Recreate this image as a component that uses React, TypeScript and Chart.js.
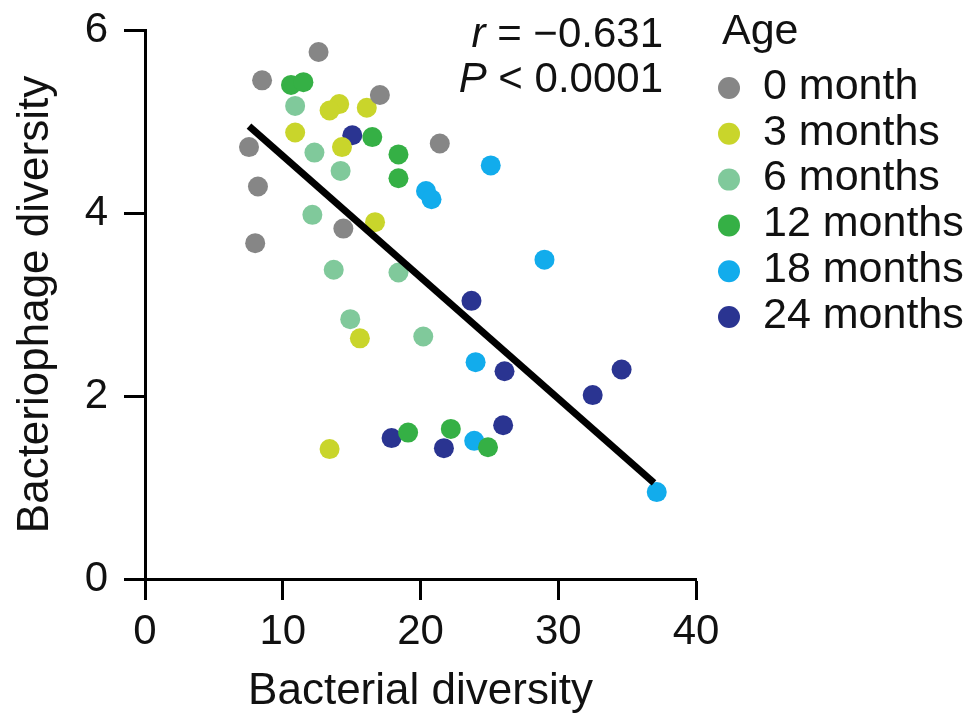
import React, { useEffect, useRef } from 'react';
import { Chart, registerables } from 'chart.js';
Chart.register(...registerables);

const ageLabels = ['0 month', '3 months', '6 months', '12 months', '18 months', '24 months'];
const ageColors = ['#868686', '#c9d52b', '#80c99b', '#35b045', '#12acec', '#2a3491'];

const month0X = [12.6, 8.5, 17.05, 21.4, 7.55, 8.2, 14.4, 8.0];
const month0Y = [5.76, 5.45, 5.29, 4.76, 4.72, 4.29, 3.83, 3.67];
const month3X = [14.1, 13.4, 16.1, 10.9, 14.3, 16.7, 15.6, 13.4];
const month3Y = [5.19, 5.12, 5.15, 4.88, 4.72, 3.9, 2.63, 1.42];
const month6X = [10.9, 12.3, 14.2, 12.15, 13.7, 18.4, 14.9, 20.2];
const month6Y = [5.17, 4.66, 4.46, 3.98, 3.38, 3.35, 2.84, 2.65];
const month12X = [10.6, 11.5, 16.5, 18.4, 18.4, 19.1, 22.2, 24.9];
const month12Y = [5.4, 5.43, 4.83, 4.64, 4.38, 1.6, 1.64, 1.44];
const month18X = [25.1, 20.4, 20.8, 29.0, 24.0, 23.9, 37.15];
const month18Y = [4.52, 4.24, 4.15, 3.49, 2.37, 1.51, 0.95];
const month24X = [15.05, 23.7, 17.9, 21.7, 26.1, 26.0, 32.5, 34.6];
const month24Y = [4.85, 3.04, 1.54, 1.43, 2.27, 1.68, 2.01, 2.29];

const fitLineX = [7.55, 36.95];
const fitLineY = [4.95, 1.05];

const statR = '\u22120.631';
const statP = '0.0001';

const xTicks = [0, 10, 20, 30, 40];
const yTicks = [0, 2, 4, 6];

const FONT = '"Liberation Sans", Arial, Helvetica, sans-serif';

const seriesX = [month0X, month3X, month6X, month12X, month18X, month24X];
const seriesY = [month0Y, month3Y, month6Y, month12Y, month18Y, month24Y];

const overlayPlugin = {
  id: 'overlay',
  afterDraw(chart: any) {
    const ctx = chart.ctx;
    ctx.save();
    ctx.fillStyle = '#111';
    ctx.textBaseline = 'middle';
    const rightX = 663;
    const drawRight = (italic: string, rest: string, y: number) => {
      ctx.font = `42px ${FONT}`;
      const wRest = ctx.measureText(rest).width;
      ctx.textAlign = 'left';
      ctx.fillText(rest, rightX - wRest, y);
      ctx.font = `italic 42px ${FONT}`;
      const wIt = ctx.measureText(italic).width;
      ctx.fillText(italic, rightX - wRest - wIt, y);
    };
    drawRight('r', ' = ' + statR, 35);
    drawRight('P', ' < ' + statP, 80);

    ctx.font = `43px ${FONT}`;
    ctx.textAlign = 'left';
    ctx.fillText('Age', 722, 32);
    ageLabels.forEach((lab, i) => {
      const y = 87 + i * 45.8;
      ctx.beginPath();
      ctx.fillStyle = ageColors[i];
      ctx.arc(729, y + 1, 11, 0, Math.PI * 2);
      ctx.fill();
      ctx.fillStyle = '#111';
      ctx.fillText(lab, 763, y);
    });
    ctx.restore();
  },
};

const clearPad = (s: any) => {
  s.paddingTop = 0;
  s.paddingBottom = 0;
  s.paddingLeft = 0;
  s.paddingRight = 0;
};

export default function App() {
  const ref = useRef<HTMLCanvasElement>(null);
  useEffect(() => {
    document.body.style.margin = '0';
    const datasets: any[] = ageLabels.map((lab, i) => ({
      type: 'scatter',
      label: lab,
      data: seriesX[i].map((x, j) => ({ x, y: seriesY[i][j] })),
      backgroundColor: ageColors[i],
      borderWidth: 0,
      pointRadius: 10,
      pointHoverRadius: 10,
      order: 2,
    }));
    datasets.push({
      type: 'line',
      label: 'fit',
      data: fitLineX.map((x, j) => ({ x, y: fitLineY[j] })),
      borderColor: '#000',
      borderWidth: 7,
      pointRadius: 0,
      fill: false,
      order: 1,
    });
    const tickFont = { family: FONT, size: 42 };
    const chart = new Chart(ref.current!, {
      type: 'scatter',
      data: { datasets },
      options: {
        animation: false,
        responsive: false,
        events: [],
        layout: { padding: { left: 0, top: 30, right: 273, bottom: 0 } },
        plugins: { legend: { display: false }, tooltip: { enabled: false } },
        scales: {
          x: {
            type: 'linear',
            min: 0,
            max: 40,
            afterFit: (s: any) => { s.height = 139; clearPad(s); },
            afterBuildTicks: (s: any) => { s.ticks = xTicks.map((v) => ({ value: v })); },
            ticks: { color: '#111', font: tickFont, padding: 7, maxRotation: 0 },
            border: { display: true, color: '#000', width: 3 },
            grid: { drawOnChartArea: false, drawTicks: true, tickLength: 21, tickColor: '#000', tickWidth: 3, color: '#000' },
            title: { display: true, text: 'Bacterial diversity', color: '#111', font: { family: FONT, size: 44 }, padding: { top: 0, bottom: 0 } },
          },
          y: {
            type: 'linear',
            min: 0,
            max: 6,
            afterFit: (s: any) => { s.width = 145; clearPad(s); },
            afterBuildTicks: (s: any) => { s.ticks = yTicks.map((v) => ({ value: v })); },
            ticks: { color: '#111', font: tickFont, padding: 16 },
            border: { display: true, color: '#000', width: 3 },
            grid: { drawOnChartArea: false, drawTicks: true, tickLength: 21, tickColor: '#000', tickWidth: 3, color: '#000' },
            title: { display: true, text: 'Bacteriophage diversity', color: '#111', font: { family: FONT, size: 44 }, padding: { top: 9, bottom: 0 } },
          },
        },
      },
      plugins: [overlayPlugin],
    } as any);
    return () => chart.destroy();
  }, []);
  return (
    <div style={{ width: 969, height: 718 }}>
      <canvas ref={ref} width={969} height={718} style={{ display: 'block' }} />
    </div>
  );
}
